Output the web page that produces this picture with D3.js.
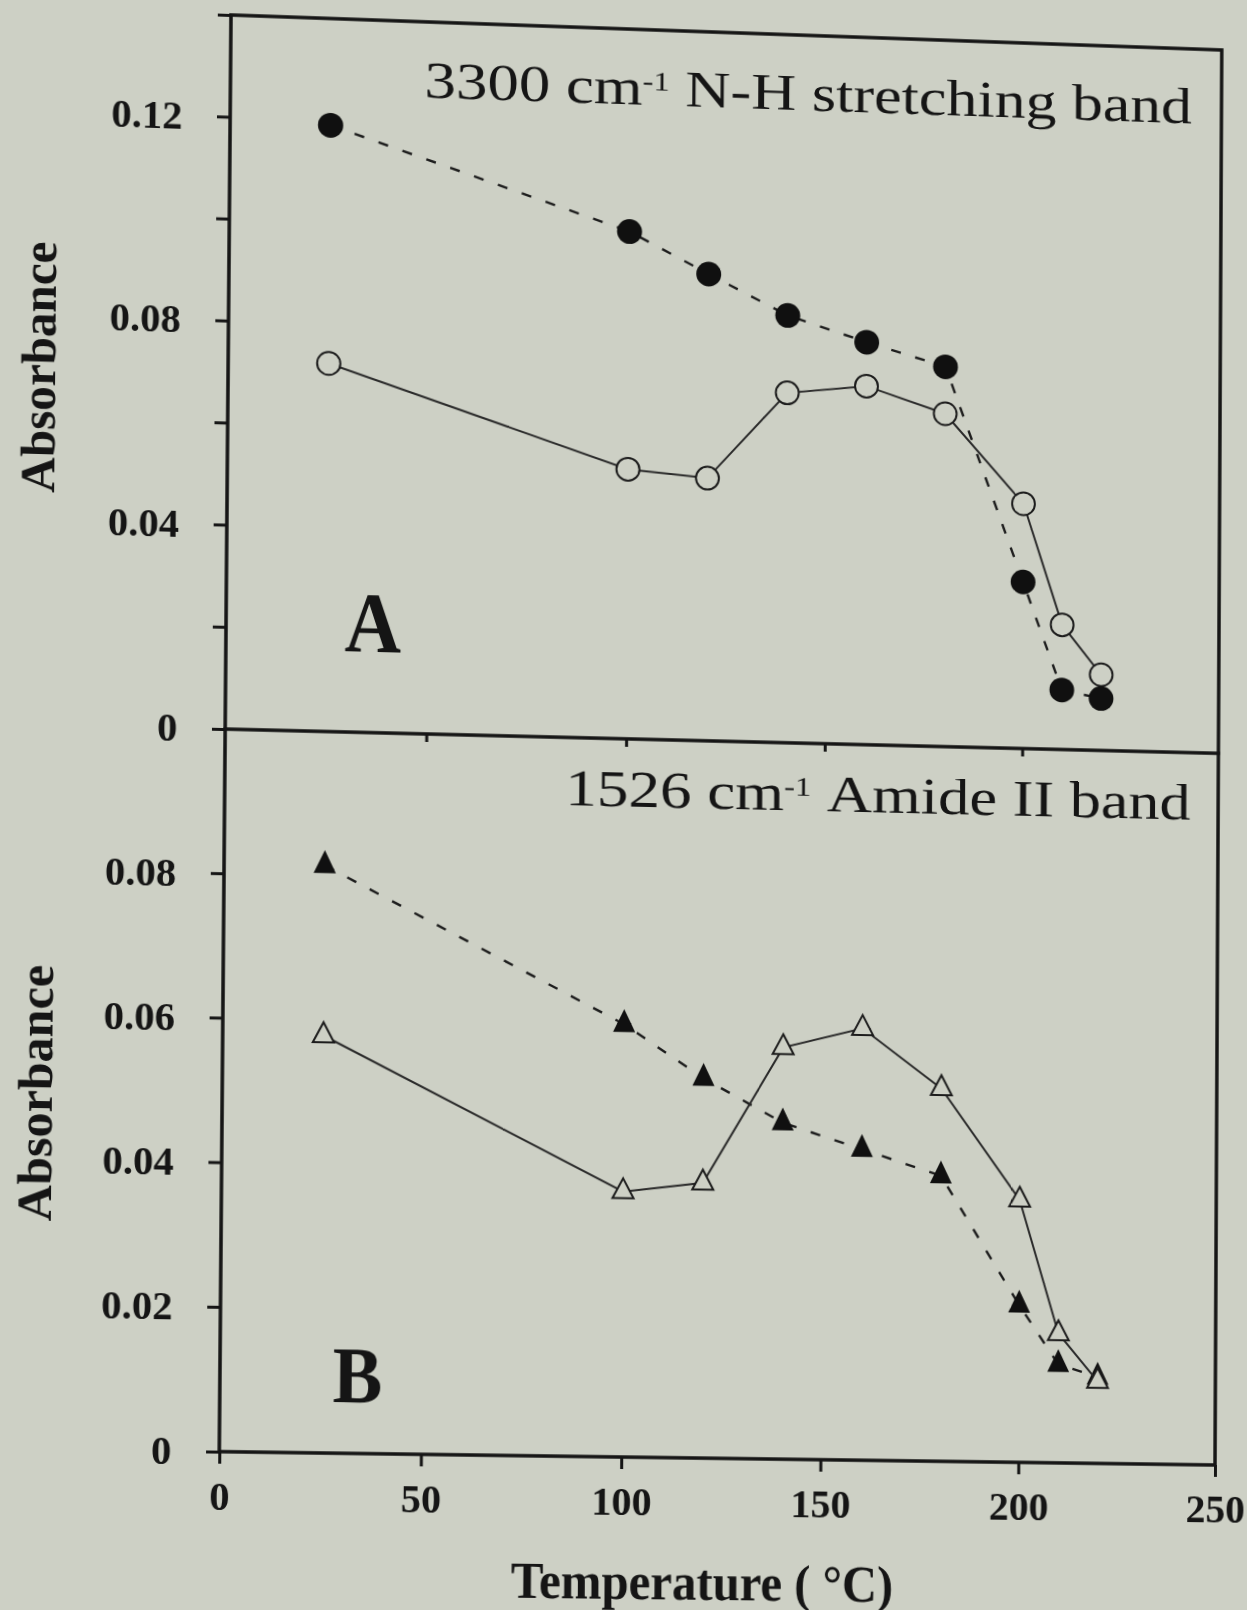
<!DOCTYPE html>
<html>
<head>
<meta charset="utf-8">
<script src="https://cdn.jsdelivr.net/npm/d3@7"></script>
<style>
  html, body { margin: 0; padding: 0; background: #cdd0c5; overflow: hidden; width: 1247px; height: 1610px; }
  #sheet { position: absolute; left: 0; top: 0; width: 1330px; height: 1660px; transform-origin: 0 0; }
  svg { display: block; }
  text { font-family: "Liberation Serif", "Times New Roman", serif; fill: #151515; }
</style>
</head>
<body>
<div id="sheet"></div>
<script>
// Heating temperatures (°C)
const temps = [25, 100, 120, 140, 160, 180, 200, 210, 220];

// Panel A: 3300 cm-1 N-H stretching band absorbance
const nhFilled = [0.1190, 0.1000, 0.0921, 0.0844, 0.0796, 0.0752, 0.0330, 0.0118, 0.0103];
const nhOpen   = [0.0722, 0.0531, 0.0518, 0.0691, 0.0709, 0.0659, 0.0485, 0.0247, 0.0150];

// Panel B: 1526 cm-1 Amide II band absorbance
const amFilled = [0.0814, 0.0602, 0.0529, 0.0469, 0.0434, 0.0399, 0.0220, 0.0138, 0.0121];
const amOpen   = [0.0578, 0.0369, 0.0383, 0.0574, 0.0603, 0.0521, 0.0367, 0.0181, 0.0115];

// Axis ticks
const xTicks = [0, 50, 100, 150, 200, 250];
const yTicksA = [0, 0.02, 0.04, 0.06, 0.08, 0.10, 0.12, 0.14];
const yLabelsA = [0, 0.04, 0.08, 0.12];
const yTicksB = [0, 0.02, 0.04, 0.06, 0.08, 0.10];
const yLabelsB = [0, 0.02, 0.04, 0.06, 0.08];

const W = 1330, H = 1660;
const frameLeft = 231, frameRight = 1224, frameTop = 15, frameMid = 731, frameBottom = 1452;

const svg = d3.select("#sheet").append("svg").attr("width", W).attr("height", H);

const x = d3.scaleLinear().domain([0, 250]).range([frameLeft, frameRight]);
const yA = d3.scaleLinear().domain([0, 0.14]).range([frameMid, frameTop]);
const yB = d3.scaleLinear().domain([0, 0.10]).range([frameBottom, frameMid]);

const ink = "#151515";
const paper = "#cdd0c5";
const fmt = d => d === 0 ? "0" : d3.format(".2f")(d);

function styleAxis(g, fontSize) {
  g.select(".domain").remove();
  g.selectAll(".tick line").attr("stroke", ink).attr("stroke-width", 3);
  g.selectAll(".tick text")
    .attr("fill", ink)
    .style("font-family", '"Liberation Serif", "Times New Roman", serif')
    .style("font-weight", "bold")
    .style("font-size", fontSize + "px");
}

// Left axes
svg.append("g").attr("transform", `translate(${frameLeft},0)`)
  .call(d3.axisLeft(yA).tickValues(yTicksA).tickSize(13).tickPadding(34)
    .tickFormat(d => yLabelsA.some(v => Math.abs(v - d) < 1e-9) ? fmt(d) : ""))
  .call(g => styleAxis(g, 40));

svg.append("g").attr("transform", `translate(${frameLeft},0)`)
  .call(d3.axisLeft(yB).tickValues(yTicksB).tickSize(13).tickPadding(34)
    .tickFormat(d => yLabelsB.some(v => Math.abs(v - d) < 1e-9) ? fmt(d) : ""))
  .call(g => styleAxis(g, 40));

// Bottom axis with labels, and unlabelled ticks under panel A
svg.append("g").attr("transform", `translate(0,${frameBottom})`)
  .call(d3.axisBottom(x).tickValues(xTicks).tickSize(12).tickPadding(18).tickFormat(d3.format("d")))
  .call(g => styleAxis(g, 40));

svg.append("g").attr("transform", `translate(0,${frameMid})`)
  .call(d3.axisBottom(x).tickValues(xTicks.slice(1, -1)).tickSize(8).tickFormat(""))
  .call(g => styleAxis(g, 40));

// Frame and panel divider
const frame = svg.append("g").attr("stroke", ink).attr("fill", "none").attr("stroke-linecap", "square");
frame.append("rect").attr("x", frameLeft).attr("y", frameTop)
  .attr("width", frameRight - frameLeft).attr("height", frameBottom - frameTop).attr("stroke-width", 3.5);
frame.append("line").attr("x1", frameLeft).attr("x2", frameRight)
  .attr("y1", frameMid).attr("y2", frameMid).attr("stroke-width", 3.5);

// Triangle marker with its centroid at the origin
const triangle = (w, h) => ({
  draw(ctx) {
    ctx.moveTo(0, -2 * h / 3);
    ctx.lineTo(w / 2, h / 3);
    ctx.lineTo(-w / 2, h / 3);
    ctx.closePath();
  }
});

function series(yScale, values, opts) {
  const pts = temps.map((t, i) => [x(t), yScale(values[i])]);
  svg.append("path")
    .attr("d", d3.line()(pts))
    .attr("fill", "none")
    .attr("stroke", opts.dashed ? "#1c1c1c" : "#2a2a2a")
    .attr("stroke-width", opts.dashed ? 2.4 : 2)
    .attr("stroke-dasharray", opts.dashed ? "10,15" : null);
  const marker = opts.shape === "circle"
    ? d3.symbol().type(d3.symbolCircle).size(Math.PI * (opts.filled ? 12.5 : 11.5) ** 2)
    : d3.symbol().type(opts.filled ? triangle(22, 23) : triangle(21, 20));
  svg.append("g").selectAll("path").data(pts).join("path")
    .attr("transform", d => `translate(${d[0]},${d[1]})`)
    .attr("d", marker())
    .attr("fill", opts.filled ? "#101010" : paper)
    .attr("stroke", opts.filled ? "none" : "#1c1c1c")
    .attr("stroke-width", opts.filled ? 0 : 2);
}

series(yA, nhOpen, { shape: "circle", filled: false, dashed: false });
series(yA, nhFilled, { shape: "circle", filled: true, dashed: true });
series(yB, amFilled, { shape: "triangle", filled: true, dashed: true });
series(yB, amOpen, { shape: "triangle", filled: false, dashed: false });

// Place a text so that it spans a given width from its start
function fitText(sel, x0, y0, width, rotate) {
  sel.attr("x", 0).attr("y", 0).attr("text-anchor", "start");
  const len = sel.node().getComputedTextLength();
  const sx = width / len;
  if (rotate) {
    sel.attr("transform", `translate(${x0},${y0}) rotate(-90) scale(${sx},1) translate(${-len / 2},0)`);
  } else {
    sel.attr("transform", `translate(${x0},${y0}) scale(${sx},1)`);
  }
}

function bandTitle(num, rest, x0, y0, width) {
  const t = svg.append("text").style("font-size", "52px");
  t.append("tspan").text(num + " cm");
  t.append("tspan").text("-1").style("font-size", "27px").attr("dy", -15);
  t.append("tspan").text("\u00a0" + rest).attr("dy", 15);
  fitText(t, x0, y0, width);
}
bandTitle("3300", "N-H stretching band", 423, 91, 771);
bandTitle("1526", "Amide II band", 568, 799, 628);

// Panel letters
fitText(svg.append("text").text("A").style("font-size", "86px").style("font-weight", "bold"), 348, 650, 56);
fitText(svg.append("text").text("B").style("font-size", "80px").style("font-weight", "bold"), 342, 1401, 49);

// Axis titles
fitText(svg.append("text").text("Absorbance").style("font-size", "48px").style("font-weight", "bold"), 61, 374, 251, true);
fitText(svg.append("text").text("Absorbance").style("font-size", "48px").style("font-weight", "bold"), 64, 1098, 255, true);
const xt = svg.append("text").text("Temperature ( \u00b0C)").style("font-size", "52px").style("font-weight", "bold");
fitText(xt, 710 - 190.5, 1594, 381);

// Slight keystone of the printed page: map the frame rectangle onto its printed corners
function squareToQuad(q) {
  const [[x0, y0], [x1, y1], [x2, y2], [x3, y3]] = q;
  const dx1 = x1 - x2, dx2 = x3 - x2, dx3 = x0 - x1 + x2 - x3;
  const dy1 = y1 - y2, dy2 = y3 - y2, dy3 = y0 - y1 + y2 - y3;
  const den = dx1 * dy2 - dx2 * dy1;
  const g = (dx3 * dy2 - dx2 * dy3) / den;
  const h = (dx1 * dy3 - dx3 * dy1) / den;
  return [
    [x1 - x0 + g * x1, x3 - x0 + h * x3, x0],
    [y1 - y0 + g * y1, y3 - y0 + h * y3, y0],
    [g, h, 1]
  ];
}
function mul(a, b) {
  return a.map(row => [0, 1, 2].map(j => row[0] * b[0][j] + row[1] * b[1][j] + row[2] * b[2][j]));
}
const quad = [[231, 15], [1221.7, 50], [1215, 1465], [219.3, 1451.7]];
const fw = frameRight - frameLeft, fh = frameBottom - frameTop;
const norm = [[1 / fw, 0, -frameLeft / fw], [0, 1 / fh, -frameTop / fh], [0, 0, 1]];
let M = mul(squareToQuad(quad), norm);
const k = M[2][2];
M = M.map(r => r.map(v => v / k));
document.getElementById("sheet").style.transform =
  `matrix3d(${M[0][0]},${M[1][0]},0,${M[2][0]},${M[0][1]},${M[1][1]},0,${M[2][1]},0,0,1,0,${M[0][2]},${M[1][2]},0,${M[2][2]})`;
</script>
</body>
</html>
